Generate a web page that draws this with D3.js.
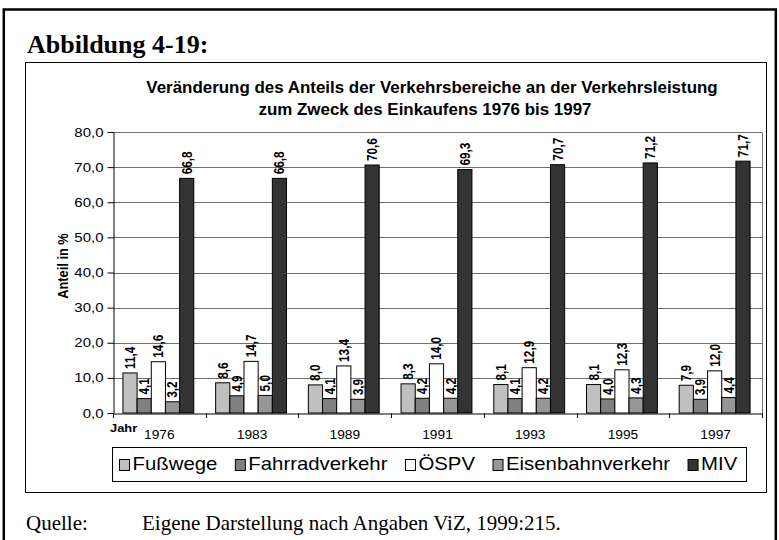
<!doctype html>
<meta charset="utf-8">
<style>
  body { margin: 0; background: #fff; }
  svg { display: block; }
  .sans { font-family: "Liberation Sans", Arial, sans-serif; }
  .serif { font-family: "Liberation Serif", "Times New Roman", serif; }
  .axis path, .axis line { stroke: #000; }
</style>

<svg id="chart" width="779" height="540"></svg>

<script src="https://cdn.jsdelivr.net/npm/d3@7"></script>
<script>
  // values
  let years = ['1976', '1983', '1989', '1991', '1993', '1995', '1997'];
  let seriesNames = ['Fußwege', 'Fahrradverkehr', 'ÖSPV', 'Eisenbahnverkehr', 'MIV'];
  let fusswege = [11.4, 8.6, 8.0, 8.3, 8.1, 8.1, 7.9];
  let fahrrad = [4.1, 4.9, 4.1, 4.2, 4.1, 4.0, 3.9];
  let oespv = [14.6, 14.7, 13.4, 14.0, 12.9, 12.3, 12.0];
  let eisenbahn = [3.2, 5.0, 3.9, 4.2, 4.2, 4.3, 4.4];
  let miv = [66.8, 66.8, 70.6, 69.3, 70.7, 71.2, 71.7];
  let yTicks = [0, 10, 20, 30, 40, 50, 60, 70, 80];

  let seriesValues = [fusswege, fahrrad, oespv, eisenbahn, miv];
  let colours = ['#c0c0c0', '#808080', '#ffffff', '#969696', '#333333'];

  let de = d3.formatLocale({decimal: ',', thousands: '.', grouping: [3], currency: ['', ' €']});
  let fmt = de.format('.1f');

  // the embedded chart in the source is a bit wider than tall, stretch text the same way
  function widen(sel, f) {
    sel.each(function() {
      let len = this.getComputedTextLength();
      d3.select(this).attr('textLength', len * f).attr('lengthAdjust', 'spacingAndGlyphs');
    });
  }

  let svg = d3.select('#chart');

  // page frame and figure heading
  svg.append('rect')
    .attr('x', 3.8).attr('y', 9.5)
    .attr('width', 772).attr('height', 600)
    .attr('fill', 'none').attr('stroke', '#000').attr('stroke-width', 2.5);

  svg.append('text')
    .attr('class', 'serif')
    .attr('x', 27).attr('y', 53)
    .attr('font-size', 26).attr('font-weight', 'bold')
    .text('Abbildung 4-19:');

  // chart box
  svg.append('rect')
    .attr('x', 25.5).attr('y', 62.5)
    .attr('width', 741).attr('height', 430)
    .attr('fill', '#fff').attr('stroke', '#000');

  // chart title
  let title = svg.append('g')
    .attr('class', 'sans')
    .attr('font-size', 16.6).attr('font-weight', 'bold')
    .attr('text-anchor', 'middle');
  title.append('text').attr('x', 432).attr('y', 93)
    .text('Veränderung des Anteils der Verkehrsbereiche an der Verkehrsleistung');
  title.append('text').attr('x', 425).attr('y', 115)
    .text('zum Zweck des Einkaufens 1976 bis 1997');
  widen(title.selectAll('text'), 1.02);

  // scales
  let plotLeft = 113, plotRight = 762, plotTop = 132, plotBottom = 413;
  let x = d3.scaleBand().domain(years).range([plotLeft, plotRight]);
  let x1 = d3.scaleBand().domain(seriesNames)
    .range([0, x.bandwidth() - 2]).paddingOuter(0.7);
  let y = d3.scaleLinear().domain([0, 80]).range([plotBottom, plotTop]);

  // gridlines
  svg.append('g')
    .selectAll('line')
    .data(yTicks.filter(t => t > 0))
    .enter()
    .append('line')
    .attr('x1', plotLeft).attr('x2', plotRight)
    .attr('y1', d => Math.round(y(d)) + 0.5)
    .attr('y2', d => Math.round(y(d)) + 0.5)
    .attr('stroke', '#6e6e6e');

  // plot area right edge
  svg.append('line')
    .attr('x1', plotRight + 0.5).attr('x2', plotRight + 0.5)
    .attr('y1', Math.round(plotTop) + 0.5).attr('y2', plotBottom)
    .attr('stroke', '#6e6e6e');

  // bars
  let groups = svg.append('g')
    .selectAll('g')
    .data(years)
    .enter()
    .append('g')
    .attr('transform', d => 'translate(' + x(d) + ',0)');

  let cells = groups.selectAll('g')
    .data((yr, i) => seriesNames.map((s, k) => ({name: s, k: k, v: seriesValues[k][i]})))
    .enter()
    .append('g');

  cells.append('rect')
    .attr('x', d => x1(d.name))
    .attr('y', d => y(d.v))
    .attr('width', x1.bandwidth())
    .attr('height', d => plotBottom - y(d.v))
    .attr('fill', d => colours[d.k])
    .attr('stroke', '#000');

  cells.append('text')
    .attr('class', 'sans')
    .attr('transform', d => 'translate(' + (x1(d.name) + x1.bandwidth() / 2) + ',' + (y(d.v) - 4) + ') rotate(-90) scale(1,1.2)')
    .attr('dy', '0.35em')
    .attr('font-size', 11.8).attr('font-weight', 'bold')
    .text(d => fmt(d.v));

  // y axis
  let yAxis = svg.append('g')
    .attr('class', 'axis sans')
    .attr('transform', 'translate(' + (plotLeft + 0.5) + ',0)')
    .call(d3.axisLeft(y).tickValues(yTicks).tickFormat(fmt).tickSize(6).tickSizeOuter(0).tickPadding(4));
  yAxis.selectAll('text').attr('font-size', 12.5).attr('fill', '#000')
    .attr('font-family', '"Liberation Sans", Arial, sans-serif');
  widen(yAxis.selectAll('text'), 1.2);

  svg.append('text')
    .attr('class', 'sans')
    .attr('transform', 'translate(68,266) rotate(-90) scale(1,1.15)')
    .attr('text-anchor', 'middle')
    .attr('font-size', 12.8).attr('font-weight', 'bold')
    .text('Anteil in %');

  // x axis
  let xAxis = svg.append('g')
    .attr('class', 'axis sans')
    .attr('transform', 'translate(0,' + (plotBottom + 0.5) + ')')
    .call(d3.axisBottom(x).tickSize(0).tickSizeOuter(0).tickPadding(17));
  xAxis.selectAll('text').attr('font-size', 12.5).attr('fill', '#000')
    .attr('font-family', '"Liberation Sans", Arial, sans-serif');
  widen(xAxis.selectAll('text'), 1.1);

  svg.append('g')
    .selectAll('line')
    .data(years.concat(['end']))
    .enter()
    .append('line')
    .attr('x1', d => Math.round(d === 'end' ? plotRight : x(d)) + 0.5)
    .attr('x2', d => Math.round(d === 'end' ? plotRight : x(d)) + 0.5)
    .attr('y1', plotBottom).attr('y2', plotBottom + 5)
    .attr('stroke', '#000');

  let jahr = svg.append('text')
    .attr('class', 'sans')
    .attr('x', 110).attr('y', 432)
    .attr('font-size', 11.5).attr('font-weight', 'bold')
    .text('Jahr');
  widen(jahr, 1.12);

  // legend
  svg.append('rect')
    .attr('x', 112.5).attr('y', 447.5)
    .attr('width', 634).attr('height', 34)
    .attr('fill', '#fff').attr('stroke', '#000');

  let legend = svg.append('g').attr('class', 'sans');
  let items = legend.selectAll('g')
    .data(seriesNames)
    .enter()
    .append('g');

  items.append('rect')
    .attr('width', 10).attr('height', 11)
    .attr('y', 459.5)
    .attr('fill', (d, i) => colours[i])
    .attr('stroke', '#000');

  items.append('text')
    .attr('x', 13).attr('y', 470)
    .attr('font-size', 18.5)
    .text(d => d);
  widen(items.selectAll('text'), 1.1);

  let cursor = 119.5;
  items.each(function() {
    let g = d3.select(this);
    g.attr('transform', 'translate(' + cursor + ',0)');
    cursor += 13 + (+g.select('text').attr('textLength')) + 18;
  });

  // source line
  svg.append('text')
    .attr('class', 'serif')
    .attr('x', 26).attr('y', 530)
    .attr('font-size', 21)
    .text('Quelle:');
  svg.append('text')
    .attr('class', 'serif')
    .attr('x', 142).attr('y', 530)
    .attr('font-size', 21)
    .text('Eigene Darstellung nach Angaben ViZ, 1999:215.');
</script>
